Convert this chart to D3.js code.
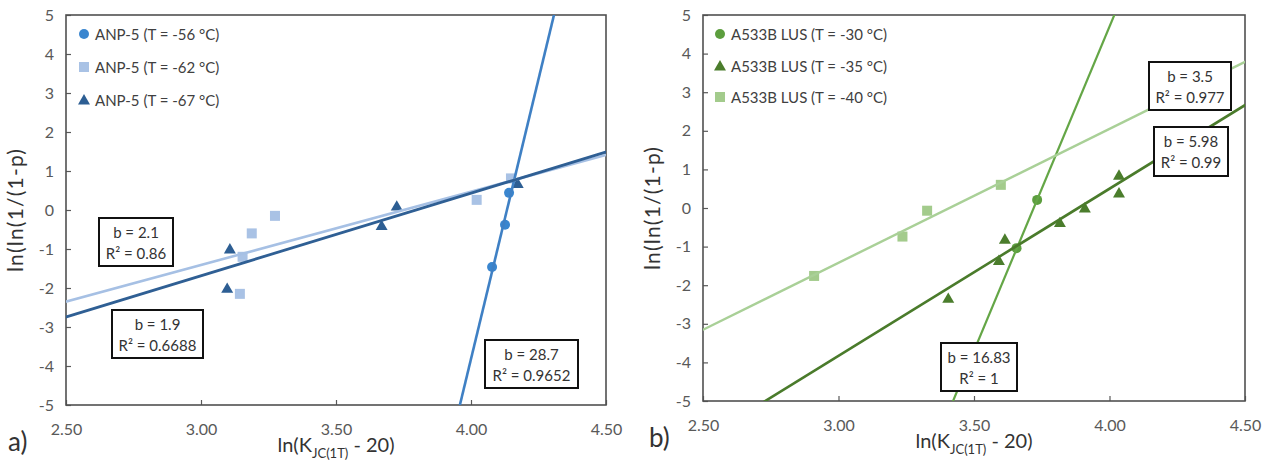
<!DOCTYPE html>
<html>
<head>
<meta charset="utf-8">
<script src="https://cdn.jsdelivr.net/npm/d3@7"></script>
<style>
  body { margin: 0; background: #fff; }
  text { font-family: Lato, "Open Sans", sans-serif; }
</style>
</head>
<body>
<svg id="chart"></svg>
<script>
let width = 1267;
let height = 473;

// axis ticks (shared by both panels)
let xTicks = [2.5, 3.0, 3.5, 4.0, 4.5];
let yTicks = [-5, -4, -3, -2, -1, 0, 1, 2, 3, 4, 5];

// panel a) ANP-5
let anp56X = [4.078, 4.126, 4.141];
let anp56Y = [-1.46, -0.38, 0.44];
let anp62X = [3.144, 3.154, 3.188, 3.274, 4.021, 4.148];
let anp62Y = [-2.15, -1.2, -0.6, -0.15, 0.26, 0.81];
let anp67X = [3.097, 3.107, 3.669, 3.725, 4.173];
let anp67Y = [-2.01, -1.0, -0.4, 0.1, 0.68];
let anpNames = ['ANP-5 (T = -56 °C)', 'ANP-5 (T = -62 °C)', 'ANP-5 (T = -67 °C)'];
let anpSlope = [28.7, 1.88, 2.115];
let anpIntercept = [-118.62, -7.05, -8.03];
let anpBoxes = [['b = 2.1', 'R² = 0.86'], ['b = 1.9', 'R² = 0.6688'], ['b = 28.7', 'R² = 0.9652']];

// panel b) A533B LUS
let lus30X = [3.657, 3.733];
let lus30Y = [-1.04, 0.21];
let lus35X = [3.405, 3.592, 3.614, 3.817, 3.909, 4.035, 4.035];
let lus35Y = [-2.34, -1.36, -0.81, -0.38, 0.0, 0.39, 0.85];
let lus40X = [2.910, 3.236, 3.327, 3.599];
let lus40Y = [-1.76, -0.74, -0.07, 0.60];
let lusNames = ['A533B LUS (T = -30 °C)', 'A533B LUS (T = -35 °C)', 'A533B LUS (T = -40 °C)'];
let lusSlope = [16.8, 4.33, 3.47];
let lusIntercept = [-62.5, -16.82, -11.83];
let lusBoxes = [['b = 3.5', 'R² = 0.977'], ['b = 5.98', 'R² = 0.99'], ['b = 16.83', 'R² = 1']];

let panels = [
  {
    tag: 'a)', left: 66, right: 606, top: 15, bottom: 405,
    tagPos: [8, 451], legendX: 84, legendY: [34, 67, 100],
    series: [
      {name: anpNames[0], x: anp56X, y: anp56Y, slope: anpSlope[0], intercept: anpIntercept[0],
       shape: 'circle', color: '#3a86cf', line: '#3f80c4', lw: 2.6},
      {name: anpNames[1], x: anp62X, y: anp62Y, slope: anpSlope[1], intercept: anpIntercept[1],
       shape: 'square', color: '#a9c2e5', line: '#a6c0e4', lw: 2.6},
      {name: anpNames[2], x: anp67X, y: anp67Y, slope: anpSlope[2], intercept: anpIntercept[2],
       shape: 'triangle', color: '#2d5e93', line: '#2f5f94', lw: 2.8}
    ],
    boxes: [
      {text: anpBoxes[0], x0: 99, y0: 218, x1: 173, y1: 266},
      {text: anpBoxes[1], x0: 112, y0: 310, x1: 203, y1: 358},
      {text: anpBoxes[2], x0: 485, y0: 340, x1: 578, y1: 388}
    ]
  },
  {
    tag: 'b)', left: 703, right: 1245, top: 15, bottom: 401,
    tagPos: [649, 447], legendX: 720, legendY: [34, 66, 97],
    series: [
      {name: lusNames[0], x: lus30X, y: lus30Y, slope: lusSlope[0], intercept: lusIntercept[0],
       shape: 'circle', color: '#5c9e3e', line: '#64a646', lw: 2.2},
      {name: lusNames[1], x: lus35X, y: lus35Y, slope: lusSlope[1], intercept: lusIntercept[1],
       shape: 'triangle', color: '#4b7d2c', line: '#4a7b2b', lw: 2.6},
      {name: lusNames[2], x: lus40X, y: lus40Y, slope: lusSlope[2], intercept: lusIntercept[2],
       shape: 'square', color: '#a3cb8c', line: '#a9d097', lw: 2.4}
    ],
    boxes: [
      {text: lusBoxes[0], x0: 1149, y0: 62, x1: 1231, y1: 110},
      {text: lusBoxes[1], x0: 1154, y0: 127, x1: 1228, y1: 176},
      {text: lusBoxes[2], x0: 941, y0: 343, x1: 1017, y1: 391}
    ]
  }
];

let svg = d3.select('#chart')
    .attr('width', width)
    .attr('height', height);

svg.append('rect').attr('width', width).attr('height', height).attr('fill', '#fff');

function marker(g, shape, cx, cy, color) {
  if (shape === 'circle') {
    g.append('circle').attr('cx', cx).attr('cy', cy).attr('r', 5).attr('fill', color);
  } else if (shape === 'square') {
    g.append('rect').attr('x', cx - 5).attr('y', cy - 5)
      .attr('width', 10).attr('height', 10).attr('fill', color);
  } else {
    g.append('path')
      .attr('d', d3.symbol(d3.symbolTriangle, 62)())
      .attr('transform', `translate(${cx},${cy + 1})`)
      .attr('fill', color);
  }
}

panels.forEach((p, i) => {
  let xScale = d3.scaleLinear().domain([2.5, 4.5]).range([p.left, p.right]);
  let yScale = d3.scaleLinear().domain([-5, 5]).range([p.bottom, p.top]);
  let g = svg.append('g');

  let clipId = 'clip' + i;
  svg.append('clipPath').attr('id', clipId)
    .append('rect')
      .attr('x', p.left).attr('y', p.top)
      .attr('width', p.right - p.left).attr('height', p.bottom - p.top);

  // axes with inward ticks, plain hyphen for negatives
  let xAxis = d3.axisBottom(xScale).tickValues(xTicks).tickSize(-5).tickPadding(13)
    .tickFormat(d => d.toFixed(2));
  let yAxis = d3.axisLeft(yScale).tickValues(yTicks).tickSize(-5).tickPadding(12)
    .tickFormat(d => String(d));

  let gx = g.append('g').attr('transform', `translate(0,${p.bottom})`).call(xAxis);
  let gy = g.append('g').attr('transform', `translate(${p.left},0)`).call(yAxis);
  [gx, gy].forEach(a => {
    a.select('.domain').remove();
    a.selectAll('line').attr('stroke', '#595959').attr('stroke-width', 1.2);
    a.selectAll('text').attr('fill', '#595959').attr('font-size', 16)
      .attr('font-family', 'Lato, sans-serif');
  });
  gx.selectAll('text').attr('dy', '1.05em');

  // plot frame
  g.append('rect')
    .attr('x', p.left).attr('y', p.top)
    .attr('width', p.right - p.left).attr('height', p.bottom - p.top)
    .attr('fill', 'none').attr('stroke', '#505050').attr('stroke-width', 1.6);

  // points
  let pts = g.append('g');
  p.series.forEach(s => {
    s.x.forEach((xv, k) => marker(pts, s.shape, xScale(xv), yScale(s.y[k]), s.color));
  });

  // trend lines
  let lines = g.append('g').attr('clip-path', `url(#${clipId})`);
  p.series.forEach(s => {
    let xs = [2.4, 4.6];
    lines.append('line')
      .attr('x1', xScale(xs[0])).attr('y1', yScale(s.slope * xs[0] + s.intercept))
      .attr('x2', xScale(xs[1])).attr('y2', yScale(s.slope * xs[1] + s.intercept))
      .attr('stroke', s.line).attr('stroke-width', s.lw);
  });

  // legend
  p.series.forEach((s, k) => {
    let ly = p.legendY[k];
    marker(g, s.shape, p.legendX, ly, s.color);
    g.append('text').attr('x', p.legendX + 11).attr('y', ly + 5.5)
      .attr('font-size', 15).attr('fill', '#404040').text(s.name);
  });

  // annotation boxes
  p.boxes.forEach(b => {
    g.append('rect')
      .attr('x', b.x0).attr('y', b.y0)
      .attr('width', b.x1 - b.x0).attr('height', b.y1 - b.y0)
      .attr('fill', '#fff').attr('stroke', '#111').attr('stroke-width', 2);
    b.text.forEach((t, k) => {
      g.append('text')
        .attr('x', (b.x0 + b.x1) / 2).attr('y', b.y0 + 20 + k * 21)
        .attr('text-anchor', 'middle').attr('font-size', 15).attr('fill', '#333')
        .text(t);
    });
  });

  // axis titles
  let xt = g.append('text')
    .attr('x', (p.left + p.right) / 2).attr('y', p.bottom + 47)
    .attr('text-anchor', 'middle').attr('font-size', 20).attr('fill', '#333');
  xt.append('tspan').text('ln(K');
  xt.append('tspan').attr('font-size', 13).attr('dy', 6).text('JC(1T)');
  xt.append('tspan').attr('dy', -6).text(' - 20)');

  g.append('text')
    .attr('transform', `translate(${p.left - 43},${(p.top + p.bottom) / 2}) rotate(-90)`)
    .attr('text-anchor', 'middle').attr('font-size', 21).attr('fill', '#333')
    .attr('letter-spacing', 1.2)
    .text('ln(ln(1/(1-p)');

  g.append('text')
    .attr('x', p.tagPos[0]).attr('y', p.tagPos[1])
    .attr('font-size', 26).attr('fill', '#333')
    .text(p.tag);
});
</script>
</body>
</html>
